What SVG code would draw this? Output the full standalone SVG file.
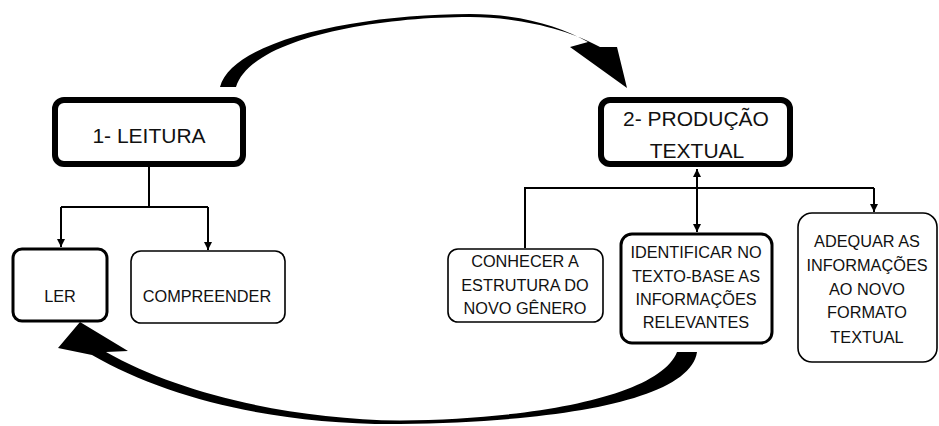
<svg xmlns="http://www.w3.org/2000/svg" width="939" height="426" viewBox="0 0 939 426">
<defs>
<marker id="ah" viewBox="0 0 10 10" refX="10" refY="5" markerWidth="8" markerHeight="8" markerUnits="userSpaceOnUse" orient="auto">
<path d="M0,0 L10,5 L0,10 Z" fill="#000"/>
</marker>
<style>
.t{font-family:"Liberation Sans",Arial,sans-serif;fill:#111;text-anchor:middle}
.big{font-size:21px}
.sm{font-size:16.3px}
.b6{fill:#fff;stroke:#000;stroke-width:6}
.b3{fill:#fff;stroke:#000;stroke-width:3}
.b15{fill:#fff;stroke:#000;stroke-width:1.6}
.ln{fill:none;stroke:#000;stroke-width:2}
</style>
</defs>
<rect width="939" height="426" fill="#fff"/>
<g id="connectors">
<path class="ln" d="M149,167 V207"/>
<path class="ln" d="M61,207 H208"/>
<path class="ln" d="M61,207 V247" marker-end="url(#ah)"/>
<path class="ln" d="M208,207 V250" marker-end="url(#ah)"/>
<path class="ln" d="M697,188 V169" marker-end="url(#ah)"/>
<path class="ln" d="M697,188 V232" marker-end="url(#ah)"/>
<path class="ln" d="M525,248 V188 H874"/>
<path class="ln" d="M874,188 V212" marker-end="url(#ah)"/>
<path id="arrow-top" fill="#000" d="M220,87 C232,40 360,14 470,14 C520,14 560,26 588,42 L570,47 L627,88 L617,47 L600,47 C570,30 520,17 470,17 C370,17 250,40 236,87 Z"/>
<path id="arrow-bottom" fill="#000" d="M677,352 L697,352 C690,400 560,422 400,424 C280,425 170,400 92,355 L58,348 L80,322 L128,351 L106,352 C180,394 290,419 400,420.5 C540,419 660,395 677,352 Z"/>
</g>
<g id="n1">
<rect class="b6" x="55" y="100" width="188" height="64" rx="9"/>
<text class="t big" x="149" y="143">1- LEITURA</text>
</g>
<g id="n2">
<rect class="b6" x="601" y="100" width="189" height="64" rx="9"/>
<text class="t big" x="696" y="126">2- PRODUÇÃO</text>
<text class="t big" x="697" y="158">TEXTUAL</text>
</g>
<g id="ler">
<rect class="b3" x="13" y="249" width="94" height="72" rx="9"/>
<text class="t sm" x="60" y="302">LER</text>
</g>
<g id="compreender">
<rect class="b15" x="131" y="251" width="154" height="72" rx="10"/>
<text class="t sm" x="207" y="302">COMPREENDER</text>
</g>
<g id="conhecer">
<rect class="b15" x="448" y="249" width="155" height="73" rx="10"/>
<text class="t sm" x="525" y="267">CONHECER A</text>
<text class="t sm" x="525" y="291">ESTRUTURA DO</text>
<text class="t sm" x="525" y="314">NOVO GÊNERO</text>
</g>
<g id="identificar">
<rect class="b3" x="621" y="234" width="151" height="109" rx="11"/>
<text class="t sm" x="696" y="258">IDENTIFICAR NO</text>
<text class="t sm" x="696" y="282">TEXTO-BASE AS</text>
<text class="t sm" x="696" y="305">INFORMAÇÕES</text>
<text class="t sm" x="696" y="328">RELEVANTES</text>
</g>
<g id="adequar">
<rect class="b15" x="798" y="213" width="139" height="149" rx="14"/>
<text class="t sm" x="867" y="247">ADEQUAR AS</text>
<text class="t sm" x="867" y="271">INFORMAÇÕES</text>
<text class="t sm" x="867" y="295">AO NOVO</text>
<text class="t sm" x="867" y="318">FORMATO</text>
<text class="t sm" x="867" y="343">TEXTUAL</text>
</g>
</svg>
